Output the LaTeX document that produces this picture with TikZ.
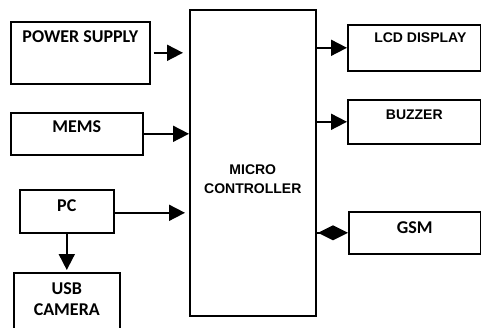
\documentclass[tikz,border=0pt]{standalone}
\usepackage{fontspec}
\newfontfamily\calibfont{Carlito}
\newfontfamily\arialfont{Liberation Sans}
\usetikzlibrary{arrows.meta,calc}

\begin{document}
\begin{tikzpicture}[x=1pt, y=-1pt, >={Triangle[length=16pt, width=16pt]},
  box/.style={draw, line width=1.6pt, anchor=north west, inner sep=0pt},
  txt/.style={anchor=north, inner sep=10pt, align=center, font=\calibfont\bfseries\fontsize{18}{21}\selectfont},
  txtb/.style={anchor=north, inner sep=10pt, align=center, font=\arialfont\bfseries\fontsize{14}{19}\selectfont},
  arr/.style={->, line width=1.8pt}]
\useasboundingbox (0,0) rectangle (481,327);
% inputs
\node[box, minimum width=139pt, minimum height=62pt, label={[txt, inner sep=9pt]north:POWER SUPPLY}] (power) at (10,21) {};
\node[box, minimum width=132pt, minimum height=42pt, label={[txt, inner sep=8pt]north:MEMS}] (mems) at (10,112) {};
\node[box, minimum width=94pt, minimum height=43pt, label={[txt, inner sep=10pt]north:PC}] (pc) at (19,189) {};
\node[box, minimum width=106pt, minimum height=62pt, label={[txt, inner sep=10pt]north:USB\\CAMERA}] (usb) at (13,272) {};
% controller
\node[box, minimum width=126pt, minimum height=306pt, label={[txtb, anchor=center, inner sep=0pt, yshift=-16pt]center:MICRO\\CONTROLLER}] (mc) at (189,9) {};
% outputs
\node[box, minimum width=133pt, minimum height=46pt, label={[txtb, inner sep=9pt, xshift=6pt]north:LCD DISPLAY}] (lcd) at (347,24) {};
\node[box, minimum width=133pt, minimum height=44pt, label={[txtb, inner sep=11pt]north:BUZZER}] (buzzer) at (347,99) {};
\node[box, minimum width=132pt, minimum height=42pt, label={[txt, inner sep=10pt]north:GSM}] (gsm) at (348,211) {};
% connectors
\draw[arr] ([xshift=3pt]power.east) -- ([xshift=-6pt]power.east -| mc.west);
\draw[arr] (mems.east) -- (mems.east -| mc.west);
\draw[arr] ([yshift=-1.5pt]pc.east) -- ([xshift=-4pt, yshift=-1.5pt]pc.east -| mc.west);
\draw[arr] (pc.south) -- ([yshift=2pt]usb.north);
\draw[arr] (lcd.west -| mc.east) -- (lcd.west);
\draw[arr] (buzzer.west -| mc.east) -- (buzzer.west);
\draw[line width=1.6pt, -{Diamond[length=30pt, width=15pt]}] (gsm.west -| mc.east) -- (gsm.west);
\end{tikzpicture}
\end{document}
